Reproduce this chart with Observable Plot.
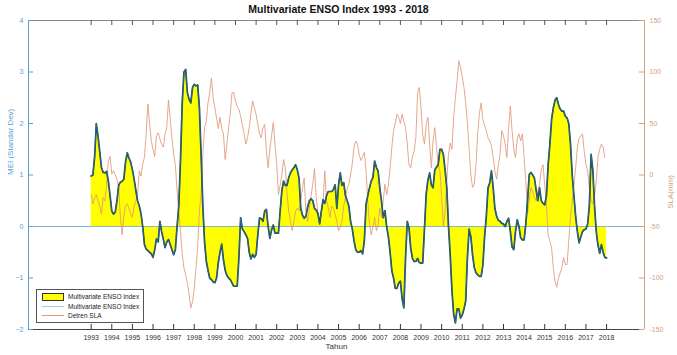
<!DOCTYPE html>
<html>
<head>
<meta charset="utf-8">
<script src="https://cdn.jsdelivr.net/npm/d3@7"></script>
<script src="https://cdn.jsdelivr.net/npm/@observablehq/plot@0.6"></script>
<style>
  body { margin: 0; background: #fff; font-family: "Liberation Sans", Arial, sans-serif; }
  #wrap { position: relative; width: 677px; height: 355px; }
  #title { position: absolute; left: 0; top: 3px; width: 677px; text-align: center; font-weight: bold; font-size: 10.5px; color: #111; line-height: 13px; }
  #legend { position: absolute; left: 36px; top: 289px; width: 106px; height: 32px; border: 1px solid #555; background: #fff; font-size: 6.5px; color: #222; }
  .row { position: absolute; left: 0; height: 9px; width: 106px; }
  .sw { position: absolute; left: 5px; width: 22px; }
  .lab { position: absolute; left: 31px; top: 0; line-height: 9px; white-space: nowrap; }
</style>
</head>
<body>
<div id="wrap">
  <div id="chart"></div>
  <div id="title"></div>
  <div id="legend"></div>
</div>
<script>
// ---- data ----
const titleText = "Multivariate ENSO Index 1993 - 2018";
const startYear = 1993;
const years = d3.range(1993, 2019);          // x tick labels 1993..2018
const meiTicks = [-2, -1, 0, 1, 2, 3, 4];    // left axis (MEI)
const slaTicks = [-150, -100, -50, 0, 50, 100, 150]; // right axis (SLA mm)
const legendLabels = ["Multivariate ENSO Index", "Multivariate ENSO Index", "Detren SLA"];

// Monthly MEI, Jan 1993 .. Jan 2018
const meiMonthly = [
  0.98, 1.0, 1.35, 2.0, 1.75, 1.45, 1.14, 1.05, 1.04, 1.07, 0.88, 0.6,        // 1993
  0.3, 0.24, 0.28, 0.5, 0.8, 0.86, 0.88, 0.92, 1.25, 1.43, 1.33, 1.25,        // 1994
  1.1, 0.92, 0.7, 0.5, 0.4, 0.25, 0.0, -0.35, -0.44, -0.47, -0.5, -0.53,      // 1995
  -0.6, -0.45, -0.24, -0.3, 0.1, -0.1, -0.25, -0.41, -0.3, -0.25, -0.35, -0.45, // 1996
  -0.55, -0.45, 0.0, 0.4, 1.3, 2.4, 3.0, 3.05, 2.6, 2.47, 2.4, 2.7,           // 1997
  2.76, 2.73, 2.75, 2.3, 1.4, 0.4, -0.3, -0.67, -0.85, -1.0, -1.03, -1.08,    // 1998
  -1.09, -1.0, -0.7, -0.5, -0.34, -0.65, -0.85, -0.95, -1.0, -1.03, -1.1, -1.16, // 1999
  -1.16, -1.16, -0.6, 0.17, -0.05, -0.1, -0.16, -0.23, -0.5, -0.63, -0.54, -0.6, // 2000
  -0.54, -0.16, 0.17, 0.15, 0.1, 0.3, 0.33, 0.0, -0.23, -0.07, 0.03, -0.13,   // 2001
  -0.13, -0.13, 0.3, 0.7, 0.88, 0.8, 0.8, 0.95, 1.04, 1.1, 1.14, 1.2,         // 2002
  1.1, 0.94, 0.35, 0.22, 0.16, 0.2, 0.38, 0.5, 0.54, 0.5, 0.35, 0.32,         // 2003
  0.25, 0.05, 0.3, 0.52, 0.45, 0.6, 0.68, 0.68, 0.68, 0.72, 0.81, 0.35,       // 2004
  0.81, 1.04, 0.8, 0.85, 0.6, 0.5, 0.4, 0.1, -0.05, -0.28, -0.45, -0.5,       // 2005
  -0.5, -0.47, -0.53, -0.28, 0.43, 0.6, 0.75, 0.88, 0.95, 1.27, 1.15, 1.08,   // 2006
  0.75, 0.49, 0.17, 0.31, 0.0, -0.2, -0.5, -0.86, -1.0, -1.2, -1.2, -1.1,     // 2007
  -1.06, -1.4, -1.58, -0.6, 0.1, -0.03, -0.42, -0.62, -0.68, -0.68, -0.62, -0.7, // 2008
  -0.71, -0.71, -0.05, 0.63, 0.9, 1.04, 0.81, 0.75, 1.1, 1.15, 1.2, 1.5,      // 2009
  1.5, 1.4, 1.1, 0.75, 0.0, -0.56, -1.25, -1.7, -1.87, -1.6, -1.6, -1.78,     // 2010
  -1.72, -1.6, -1.45, -0.6, -0.05, -0.2, -0.55, -0.8, -0.9, -0.94, -0.97, -0.97, // 2011
  -0.75, -0.2, 0.2, 0.75, 0.85, 1.08, 0.75, 0.35, 0.2, 0.12, 0.1, 0.06,       // 2012
  0.05, 0.0, 0.1, 0.16, -0.1, -0.4, -0.45, -0.1, 0.13, 0.0, -0.22, -0.26,     // 2013
  -0.26, 0.05, 0.5, 1.01, 1.05, 1.0, 0.94, 0.71, 0.5, 0.75, 0.5, 0.45,        // 2014
  0.42, 0.6, 1.2, 1.6, 2.08, 2.3, 2.45, 2.5, 2.37, 2.28, 2.24, 2.24,          // 2015
  2.14, 2.11, 2.0, 1.6, 1.0, 0.6, 0.2, -0.1, -0.32, -0.2, -0.1, -0.06,        // 2016
  -0.05, 0.05, 0.42, 1.4, 1.1, 0.4, -0.1, -0.36, -0.52, -0.35, -0.5, -0.6,    // 2017
  -0.61                                                                       // 2018 Jan
];

// Monthly detrended SLA (mm), Jan 1993 .. Dec 2017
const slaMonthly = [
  -19, -28, -22, -19, -25, -30, -38, -22, -25, -10, 14, 18,      // 1993
  1, 4, 0, -4, -12, -40, -58, -40, -30, -28, -32, -38,           // 1994
  -41, -30, -25, -19, 4, -1, 11, 17, 40, 69, 50, 33,             // 1995
  25, 18, 38, 41, 35, 30, 27, 40, 46, 73, 55, 36,                // 1996
  20, 10, -15, -35, -55, -77, -90, -97, -105, -116, -129, -123,  // 1997
  -110, -90, -70, -35, -19, 20, 46, 52, 70, 80, 94, 75,          // 1998
  65, 55, 45, 56, 45, 40, 15, 30, 46, 60, 80, 80,                // 1999
  72, 66, 64, 57, 49, 40, 30, 36, 46, 60, 72, 65,                // 2000
  59, 49, 40, 36, 46, 49, 23, 7, 25, 38, 51, 30,                 // 2001
  10, -19, -10, 0, 15, 7, -18, -35, -45, -54, -45, -35,          // 2002
  -32, -35, -25, -13, -3, -35, -45, -32, -20, -9, 6, -22,        // 2003
  -38, -45, -35, -25, 4, -25, -32, -41, -30, -32, -38, -45,      // 2004
  -54, -51, -45, -30, -22, -13, -9, 0, 11, 27, 33, 30,           // 2005
  20, 14, 18, 22, 4, -25, -48, -58, -51, -41, -54, -48,          // 2006
  -32, -41, -25, -9, -19, -10, 7, 27, 43, 50, 59, 56,            // 2007
  50, 59, 52, 46, 30, 10, 7, 18, 23, 36, 80, 85,                 // 2008
  65, 39, 30, 49, 56, 30, 7, 33, 46, 27, 10, 4,                  // 2009
  -20, -50, -35, -5, 20, 31, 25, 56, 75, 91, 111, 104,           // 2010
  95, 85, 70, 50, 25, 0, -12, -9, 10, 40, 60, 70,                // 2011
  54, 48, 43, 36, 33, 28, 17, 4, -4, 10, 20, 43,                 // 2012
  38, 30, 17, 46, 67, 43, 25, 17, 35, 40, 33, 40,                // 2013
  17, -6, -38, -25, -12, -16, -22, -25, -16, -9, 5, 10,          // 2014
  -10, -28, -58, -64, -71, -90, -103, -109, -100, -95, -90, -80, // 2015
  -87, -87, -64, -41, -25, -10, 7, 27, 36, 38, 40, 23,           // 2016
  10, 4, -12, -25, -28, -20, -6, 17, 25, 30, 27, 17              // 2017
];

// ---- styles ----
const leftColor = "#5e9ccb";
const rightColor = "#d3a080";
const yellow = "#ffff00";
const meiEdge = "#17464a";
const meiLine = "#3c7aa8";
const slaColor = "#e0977a";
const zeroColor = "#7db5dc";

// SLA (mm) mapped onto the MEI scale: -150..150 mm  <->  -2..4
const slaToMei = v => v / 50 + 1;
const meiToSla = v => (v - 1) * 50;

const meiRows = meiMonthly.map((v, i) => ({t: startYear + i / 12, v}));
const slaRows = slaMonthly.map((v, i) => ({t: startYear + i / 12, v: slaToMei(v)}));

const xMin = 1989.96, xMax = 2019.84;
const W = 677, H = 355, mL = 28, mR = 33, mT = 20, mB = 26;
const tickLen = 5;
const frameH = H - mT - mB, frameW = W - mL - mR;

const chart = Plot.plot({
  width: W,
  height: H,
  marginLeft: mL,
  marginRight: mR,
  marginTop: mT,
  marginBottom: mB,
  style: {fontFamily: "'Liberation Sans', Arial, sans-serif", fontSize: "7px", background: "white", color: "#333"},
  x: {domain: [xMin, xMax]},
  y: {domain: [-2, 4]},
  marks: [
    Plot.areaY(meiRows, {x: "t", y: "v", fill: yellow}),
    Plot.ruleY([0], {stroke: zeroColor, strokeWidth: 1}),
    Plot.lineY(slaRows, {x: "t", y: "v", stroke: slaColor, strokeWidth: 0.85}),
    Plot.lineY(meiRows, {x: "t", y: "v", stroke: meiEdge, strokeWidth: 1.7}),
    Plot.lineY(meiRows, {x: "t", y: "v", stroke: meiLine, strokeWidth: 0.6}),
    // frame
    Plot.ruleY([4], {stroke: "#8a8a8a"}),
    Plot.ruleY([-2], {stroke: "#444"}),
    Plot.ruleX([xMin], {stroke: leftColor}),
    Plot.ruleX([xMax], {stroke: rightColor}),
    // inward ticks: bottom, top, left, right
    Plot.ruleX(years, {x: d => d, insetTop: frameH - tickLen, stroke: "#333"}),
    Plot.ruleX(years, {x: d => d, insetBottom: frameH - tickLen, stroke: "#555"}),
    Plot.ruleY(meiTicks, {y: d => d, insetRight: frameW - tickLen, stroke: leftColor}),
    Plot.ruleY(slaTicks, {y: d => slaToMei(d), insetLeft: frameW - tickLen, stroke: rightColor}),
    // tick labels
    Plot.axisX({ticks: years, anchor: "bottom", tickSize: 0, tickPadding: 6, tickFormat: "d", fill: "#333", label: null}),
    Plot.axisY({ticks: meiTicks, anchor: "left", tickSize: 0, tickPadding: 5, tickFormat: "d", fill: leftColor, label: null}),
    Plot.axisY({ticks: slaTicks.map(slaToMei), anchor: "right", tickSize: 0, tickPadding: 5, tickFormat: d => String(Math.round(meiToSla(d))), fill: rightColor, label: null}),
    // axis titles
    Plot.text(["Tahun"], {frameAnchor: "bottom", dy: 19, fontSize: 8, fill: "#333"}),
    Plot.text(["MEI (Standar Dev)"], {frameAnchor: "left", rotate: -90, dx: -18, fontSize: 8, fill: leftColor}),
    Plot.text(["SLA(mm)"], {frameAnchor: "right", rotate: -90, dx: 26, fontSize: 8, fill: rightColor})
  ]
});
document.getElementById("chart").appendChild(chart);
document.getElementById("title").textContent = titleText;

// legend
const legend = document.getElementById("legend");
const swatches = [
  `<div class="sw" style="top:1px;height:6px;background:${yellow};border:1px solid #333;width:20px"></div>`,
  `<div class="sw" style="top:4px;height:0;border-top:1px solid #a9c8dd"></div>`,
  `<div class="sw" style="top:4px;height:0;border-top:1px solid ${slaColor}"></div>`
];
legendLabels.forEach((lab, i) => {
  const row = document.createElement("div");
  row.className = "row";
  row.style.top = (2 + i * 9.5) + "px";
  row.innerHTML = swatches[i] + `<div class="lab">${lab}</div>`;
  legend.appendChild(row);
});
</script>
</body>
</html>
